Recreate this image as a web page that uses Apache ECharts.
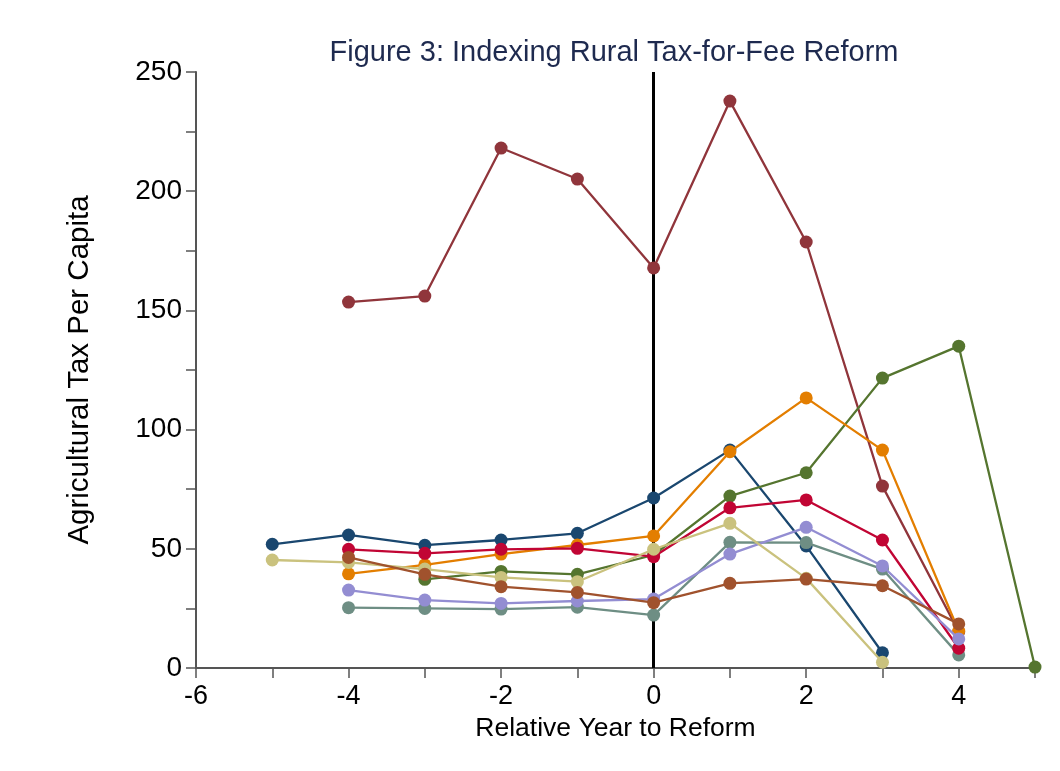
<!DOCTYPE html>
<html>
<head>
<meta charset="utf-8">
<title>Figure 3</title>
<script src="https://cdn.jsdelivr.net/npm/echarts@6/dist/echarts.min.js"></script>
<style>
  html, body { margin: 0; padding: 0; background: #fff; }
  #chart { width: 1060px; height: 771px; }
</style>
</head>
<body>
<div id="chart"></div>
<script>
// relative year to reform
const years = [-5, -4, -3, -2, -1, 0, 1, 2, 3, 4, 5]

// one line per province group, null = no observation
const navy = [51.9, 55.8, 51.5, 53.7, 56.5, 71.3, 91.4, 51.2, 6.4, null, null]
const maroon = [null, 153.5, 156, 218.1, 205.1, 167.8, 237.8, 178.7, 76.3, 15.2, null]
const green = [null, null, 37.2, 40.5, 39.3, 47.4, 72.1, 81.9, 121.6, 135, 0.4]
const orange = [null, 39.5, 43.3, 47.8, 51.6, 55.4, 90.7, 113.3, 91.4, 15.5, null]
const teal = [null, 25.3, 25.0, 24.7, 25.5, 22.2, 52.7, 52.6, 41.5, 5.5, null]
const cranberry = [null, 49.8, 48.1, 49.8, 50.2, 46.7, 67.2, 70.5, 53.7, 8.3, null]
const lavender = [null, 32.7, 28.5, 27.1, 28.1, 28.9, 47.8, 59.0, 42.8, 12.2, null]
const khaki = [45.3, 44.3, 41.5, 38.0, 36.2, 49.8, 60.7, 37.6, 2.4, null, null]
const sienna = [null, 46.4, 39.3, 34.1, 31.7, 27.4, 35.5, 37.3, 34.5, 18.5, null]

const xTicks = [-6, -4, -2, 0, 2, 4]
const yTicks = [0, 50, 100, 150, 200, 250]

const lines = [
  { name: 'navy', values: navy, color: '#1a476f' },
  { name: 'maroon', values: maroon, color: '#90353b' },
  { name: 'green', values: green, color: '#55752f' },
  { name: 'orange', values: orange, color: '#e37e00' },
  { name: 'teal', values: teal, color: '#6e8e84' },
  { name: 'cranberry', values: cranberry, color: '#c10534' },
  { name: 'lavender', values: lavender, color: '#938dd2' },
  { name: 'khaki', values: khaki, color: '#cac27e' },
  { name: 'sienna', values: sienna, color: '#a0522d' },
]

const chart = echarts.init(document.getElementById('chart'))

const series = lines.map((l, i) => {
  const pts = []
  years.forEach((y, j) => {
    if (l.values[j] !== null) pts.push([y, l.values[j]])
  })
  const s = {
    name: l.name,
    type: 'line',
    data: pts,
    symbol: 'circle',
    symbolSize: 13,
    color: l.color,
    lineStyle: { width: 2.3, color: l.color },
    itemStyle: { color: l.color },
    z: 3 + i,
    animation: false,
  }
  if (i === 0) {
    // reform year marker
    s.markLine = {
      silent: true,
      symbol: 'none',
      label: { show: false },
      lineStyle: { color: '#000', width: 3, type: 'solid' },
      data: [{ xAxis: 0 }],
      z: 1,
    }
  }
  return s
})

const option = {
  animation: false,
  backgroundColor: '#fff',
  title: {
    text: 'Figure 3: Indexing Rural Tax-for-Fee Reform',
    left: 609,
    top: 33,
    textAlign: 'center',
    textStyle: {
      color: '#1e2a4f',
      fontFamily: 'Liberation Sans',
      fontWeight: 'normal',
      fontSize: 29,
    },
  },
  grid: {
    left: 196,
    right: 25,
    top: 72,
    bottom: 103,
  },
  xAxis: {
    type: 'value',
    min: -6,
    max: 5,
    interval: 1,
    name: 'Relative Year to Reform',
    nameLocation: 'middle',
    nameGap: 44,
    nameTextStyle: { color: '#000', fontSize: 26.5, fontFamily: 'Liberation Sans' },
    axisLine: { lineStyle: { color: '#555', width: 2 } },
    axisTick: { length: 10, lineStyle: { color: '#555', width: 1.5 } },
    axisLabel: {
      color: '#000',
      fontSize: 27,
      fontFamily: 'Liberation Sans',
      margin: 15,
      formatter: v => (xTicks.includes(v) ? String(v) : ''),
    },
    splitLine: { show: false },
  },
  yAxis: {
    type: 'value',
    min: 0,
    max: 250,
    interval: 25,
    name: 'Agricultural Tax Per Capita',
    nameLocation: 'middle',
    nameGap: 101,
    nameTextStyle: { color: '#000', fontSize: 29.5, fontFamily: 'Liberation Sans' },
    axisLine: { show: true, onZero: false, lineStyle: { color: '#555', width: 2 } },
    axisTick: { show: true, length: 10, lineStyle: { color: '#555', width: 1.5 } },
    axisLabel: {
      color: '#000',
      fontSize: 28,
      fontFamily: 'Liberation Sans',
      margin: 14,
      formatter: v => (yTicks.includes(v) ? String(v) : ''),
    },
    splitLine: { show: false },
  },
  series: series,
}

chart.setOption(option)
</script>
</body>
</html>
